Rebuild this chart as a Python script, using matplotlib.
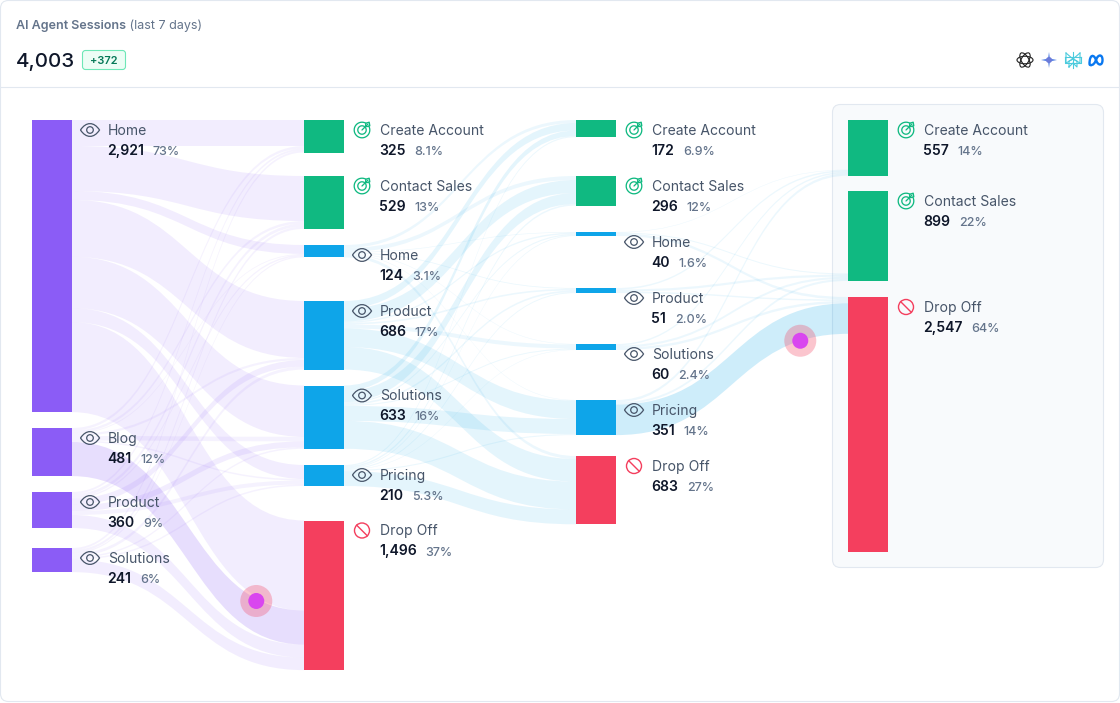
import numpy as np
import matplotlib
matplotlib.use('Agg')
import matplotlib.pyplot as plt
from matplotlib.path import Path
from matplotlib.patches import PathPatch, FancyBboxPatch, Rectangle, Circle, Ellipse

plt.rcParams['font.family'] = ['Inter', 'DejaVu Sans']

# sankey data
col1_names = ['Home', 'Blog', 'Product', 'Solutions']
col1_values = [2921, 481, 360, 241]
col1_pcts = ['73%', '12%', '9%', '6%']

col2_names = ['Create Account', 'Contact Sales', 'Home', 'Product', 'Solutions', 'Pricing', 'Drop Off']
col2_values = [325, 529, 124, 686, 633, 210, 1496]
col2_pcts = ['8.1%', '13%', '3.1%', '17%', '16%', '5.3%', '37%']

col3_names = ['Create Account', 'Contact Sales', 'Home', 'Product', 'Solutions', 'Pricing', 'Drop Off']
col3_values = [172, 296, 40, 51, 60, 351, 683]
col3_pcts = ['6.9%', '12%', '1.6%', '2.0%', '2.4%', '14%', '27%']

col4_names = ['Create Account', 'Contact Sales', 'Drop Off']
col4_values = [557, 899, 2547]
col4_pcts = ['14%', '22%', '64%']

# rows are sources, columns are targets
flows_1_2 = [[260, 450, 89, 569, 513, 140, 900],
             [25, 25, 8, 22, 45, 15, 341],
             [20, 30, 15, 65, 60, 40, 130],
             [20, 24, 12, 30, 15, 15, 125]]
flows_2_3 = [[30, 40, 6, 8, 5, 5, 30],
             [75, 130, 14, 16, 40, 185, 226],
             [55, 110, 12, 17, 10, 150, 279],
             [12, 16, 8, 10, 5, 11, 148]]
flows_3_4 = [[5, 10, 25],
             [15, 22, 14],
             [15, 21, 24],
             [25, 21, 305]]
# sessions already in the last column that arrive from earlier steps
carried_4 = [497, 825, 0]

# layout, pixels
PX = 0.72
SCALE = 0.1
node_w = 40
col_x = [32, 304, 576, 848]
col_tops = [[120, 428, 492, 548],
            [120, 176, 245, 301, 385.5, 465, 520.5],
            [120, 176, 232, 288, 344, 400, 456],
            [120, 191, 297]]

VIOLET = '#8B5CF6'
GREEN = '#10B981'
BLUE = '#0EA5E9'
RED = '#F43F5E'
SLATE = '#475569'

fig = plt.figure(figsize=(11.2, 7.03), dpi=100)
ax = fig.add_axes([0, 0, 1, 1])
ax.set_xlim(0, 1120)
ax.set_ylim(703, 0)
ax.axis('off')

# card and header
ax.add_patch(FancyBboxPatch((0.5, 0.5), 1119, 701, boxstyle='round,pad=0,rounding_size=8',
                            fc='white', ec='#E2E8F0', lw=0.8, zorder=0))
ax.plot([1, 1119], [87.2, 87.2], color='#E2E8F0', lw=0.8, zorder=1)
ax.add_patch(FancyBboxPatch((832.5, 104.5), 271, 463, boxstyle='round,pad=0,rounding_size=8',
                            fc='#F8FAFC', ec='#E2E8F0', lw=0.8, zorder=1))

title = ax.text(16, 29, 'AI Agent Sessions', fontsize=12.5 * PX, fontweight='semibold',
                color='#64748B', va='baseline')
ax.annotate(' (last 7 days)', xy=(1, 0), xycoords=title, fontsize=12.5 * PX, color='#64748B', va='bottom')
ax.text(16, 67, '4,003', fontsize=20.5 * PX, fontweight='medium', color='#0F172A', va='baseline')
ax.add_patch(FancyBboxPatch((82.5, 50.5), 43, 19, boxstyle='round,pad=0,rounding_size=3',
                            fc='#ECFDF5', ec='#6EE7B7', lw=0.8))
ax.text(104, 64.5, '+372', fontsize=11 * PX, fontweight='semibold', color='#047857',
        ha='center', va='baseline')


def band_path(x0, x1, y0a, y0b, y1a, y1b):
    xm = (x0 + x1) / 2
    verts = [(x0, y0a), (xm, y0a), (xm, y1a), (x1, y1a), (x1, y1b), (xm, y1b), (xm, y0b), (x0, y0b), (x0, y0a)]
    codes = [Path.MOVETO, Path.CURVE4, Path.CURVE4, Path.CURVE4, Path.LINETO,
             Path.CURVE4, Path.CURVE4, Path.CURVE4, Path.CLOSEPOLY]
    return Path(verts, codes)


def band_point(x0, x1, y0, y1, s):
    xm = (x0 + x1) / 2
    x = (1 - s) ** 3 * x0 + 3 * (1 - s) ** 2 * s * xm + 3 * (1 - s) * s ** 2 * xm + s ** 3 * x1
    y = y0 + (3 * s ** 2 - 2 * s ** 3) * (y1 - y0)
    return x, y


def draw_flows(layer, matrix, src_idx, color, carried=None, highlight=None, dot=None):
    x0 = col_x[layer] + node_w
    x1 = col_x[layer + 1]
    matrix = np.array(matrix)
    for i, src in enumerate(src_idx):
        for j in range(matrix.shape[1]):
            h = matrix[i, j] * SCALE
            y0 = col_tops[layer][src] + matrix[i, :j].sum() * SCALE
            y1 = col_tops[layer + 1][j] + matrix[:i, j].sum() * SCALE
            if carried is not None:
                y1 += carried[j] * SCALE
            hot = highlight == (i, j)
            alpha = 0.2 if hot else (0.11 if h > 5 else 0.08)
            ax.add_patch(PathPatch(band_path(x0, x1, y0, y0 + h, y1, y1 + h), fc=color,
                                   alpha=alpha, lw=0, zorder=2))
            if hot:
                s, across = dot
                cx, cy = band_point(x0, x1, y0 + h * across, y1 + h * across, s)
                ax.add_patch(Circle((cx, cy), 16, fc=RED, alpha=0.3, lw=0, zorder=6))
                ax.add_patch(Circle((cx, cy), 8, fc='#D946EF', lw=0, zorder=7))


def arc(cx, cy, r, a0, a1):
    a = np.radians(np.linspace(a0, a1, 60))
    return cx + r * np.cos(a), cy - r * np.sin(a)


def eye_icon(cx, cy):
    w, h = 9.5, 8.5
    verts = [(cx - w, cy), (cx - 4, cy - h), (cx + 4, cy - h), (cx + w, cy),
             (cx + 4, cy + h), (cx - 4, cy + h), (cx - w, cy)]
    codes = [Path.MOVETO] + [Path.CURVE4] * 6
    ax.add_patch(PathPatch(Path(verts, codes), fc='none', ec=SLATE, lw=0.9, zorder=5))
    ax.add_patch(Circle((cx, cy), 3.3, fc='none', ec=SLATE, lw=0.9, zorder=5))


def target_icon(cx, cy):
    lw = 1.3 * PX
    for r, a0, a1 in [(7.8, 60, 390), (4.2, 55, 395)]:
        x, y = arc(cx, cy, r, a0, a1)
        ax.plot(x, y, color=GREEN, lw=lw, zorder=5, solid_capstyle='round')
    ax.plot([cx, cx + 6], [cy, cy - 6], color=GREEN, lw=lw, zorder=5, solid_capstyle='round')
    ax.plot([cx + 3.5, cx + 3.8, cx + 7.2, cx + 7.8, cx + 5, cx + 3.5],
            [cy - 3.5, cy - 6.8, cy - 7.8, cy - 4.2, cy - 3.4, cy - 3.5],
            color=GREEN, lw=lw, zorder=5, solid_joinstyle='round')


def drop_icon(cx, cy):
    ax.add_patch(Circle((cx, cy), 7.5, fc='none', ec=RED, lw=1.4 * PX, zorder=5))
    ax.plot([cx - 5.3, cx + 5.3], [cy - 5.3, cy + 5.3], color=RED, lw=1.4 * PX, zorder=5)


def draw_column(layer, names, values, pcts):
    x = col_x[layer]
    for name, value, pct, top in zip(names, values, pcts, col_tops[layer]):
        if layer == 0:
            color = VIOLET
        elif name in ('Create Account', 'Contact Sales'):
            color = GREEN
        elif name == 'Drop Off':
            color = RED
        else:
            color = BLUE
        ax.add_patch(Rectangle((x, top), node_w, value * SCALE, fc=color, lw=0, zorder=3))
        if color == GREEN:
            target_icon(x + node_w + 18, top + 10)
        elif color == RED:
            drop_icon(x + node_w + 18, top + 10)
        else:
            eye_icon(x + node_w + 18, top + 10)
        ax.text(x + node_w + 36, top + 15, name, fontsize=14 * PX, color=SLATE, va='baseline', zorder=8)
        val = ax.text(x + node_w + 35.4, top + 35, f'{value:,}', fontsize=14 * PX, fontweight='semibold',
                      color='#0F172A', va='baseline', zorder=8)
        ax.annotate(pct, xy=(1, 0), xycoords=val, xytext=(8.5 * PX, 0), textcoords='offset points',
                    fontsize=12.5 * PX, fontweight='medium', color='#64748B', va='bottom', zorder=8)


draw_flows(0, flows_1_2, [0, 1, 2, 3], VIOLET, highlight=(1, 6), dot=(0.84, 0.06))
draw_flows(1, flows_2_3, [2, 3, 4, 5], BLUE)
draw_flows(2, flows_3_4, [2, 3, 4, 5], BLUE, carried=carried_4, highlight=(3, 2), dot=(0.84, 1.0))

draw_column(0, col1_names, col1_values, col1_pcts)
draw_column(1, col2_names, col2_values, col2_pcts)
draw_column(2, col3_names, col3_values, col3_pcts)
draw_column(3, col4_names, col4_values, col4_pcts)

# provider logos, top right
for angle in [0, 60, 120]:
    ax.add_patch(Ellipse((1025, 60), 16, 7.5, angle=angle, fc='none', ec='#222222', lw=0.8))
star = [(1049, 52), (1050, 58.5), (1057, 60), (1050, 61.5), (1049, 68), (1048, 61.5), (1041, 60), (1048, 58.5), (1049, 52)]
ax.add_patch(PathPatch(Path(star), fc='#5B86E5', lw=0))
ax.add_patch(Circle((1049, 60), 3, fc='#6C7BD9', lw=0))
px_lines = [[(1073, 52), (1073, 68)], [(1066, 53), (1073, 59), (1080, 53)], [(1066, 53), (1066, 63), (1073, 59)],
            [(1080, 53), (1080, 63), (1073, 59)], [(1065, 57), (1081, 57)], [(1065, 57), (1065, 63), (1081, 63), (1081, 57)],
            [(1069, 67), (1069, 61), (1073, 59), (1077, 61), (1077, 67), (1073, 63), (1069, 67)]]
for line in px_lines:
    xs, ys = zip(*line)
    ax.plot(xs, ys, color='#4CCBDD', lw=0.8)
meta_verts = [(1089.5, 64), (1089.5, 54), (1094, 54), (1096, 60), (1098, 66), (1102.5, 66), (1102.5, 60),
              (1102.5, 54), (1098, 54), (1096, 60), (1094, 66), (1089.5, 66), (1089.5, 64)]
ax.add_patch(PathPatch(Path(meta_verts, [Path.MOVETO] + [Path.CURVE4] * 12), fc='none', ec='#0A78F0', lw=1.7))

plt.savefig('out.png', dpi=100)
